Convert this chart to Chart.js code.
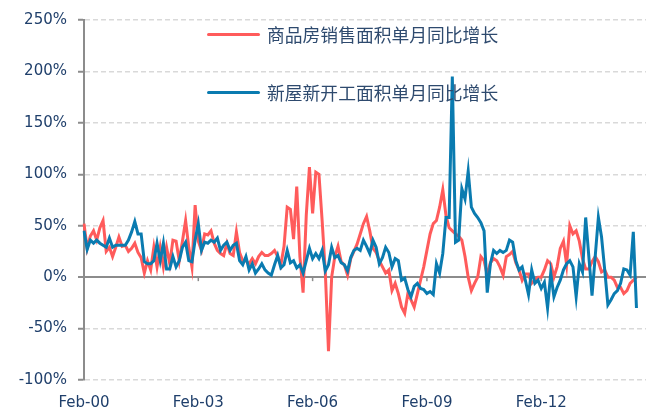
<!DOCTYPE html>
<html>
<head>
<meta charset="utf-8">
<script src="https://cdn.jsdelivr.net/npm/chart.js@4.4.0/dist/chart.umd.min.js"></script>
<style>
  html, body { margin: 0; padding: 0; background: #fff; }
  #wrap { position: relative; width: 646px; height: 412px; }
  .legend-item {
    position: absolute; left: 207px; height: 20px;
    display: flex; align-items: center;
    font-family: "Noto Sans CJK SC", sans-serif; font-size: 17.8px;
    color: #2E4A6E; white-space: nowrap;
  }
  .legend-item i { display: inline-block; width: 53px; height: 3px; border-radius: 2px; margin-right: 7px; }
</style>
</head>
<body>
<div id="wrap">
  <canvas id="chartYoy"></canvas>
  <div class="legend-item" style="top:24px"><i style="background:#FF5B5B"></i>商品房销售面积单月同比增长</div>
  <div class="legend-item" style="top:82px"><i style="background:#0A7BB0"></i>新屋新开工面积单月同比增长</div>
</div>
<script>
// ============= DATA =============
// monthly yoy growth (%), starting Feb-00
const salesYoy = [
  52,28,40,45,36,48,55,25,29,20,
  29,39,30,31,25,28,33,24,19,4,
  16,7,29,10,29,10,29,13,36,35,
  16,35,55,29,10,70,35,26,42,41,
  45,33,26,23,21,33,23,21,44,24,
  16,16,13,18,13,20,24,21,21,23,
  26,20,12,30,68,66,37,88,20,-15,
  60,107,62,102,100,55,5,-72,0,20,
  30,15,12,2,18,25,32,42,52,59,
  45,28,24,16,10,4,7,-13,-6,-16,
  -29,-35,-16,-22,-29,-16,-3,10,26,42,
  52,55,68,85,60,48,45,42,40,36,
  20,0,-13,-6,0,20,16,2,14,18,
  16,10,2,20,22,25,14,7,-3,3,
  3,-6,-3,0,0,7,16,13,0,10,
  28,35,12,50,42,45,35,18,8,8,
  15,20,15,5,7,0,0,-3,-10,-10,
  -16,-13,-6,-3,0
];
const startsYoy = [
  45,27,36,33,36,33,31,29,38,29,
  31,31,31,31,36,44,54,42,42,15,
  13,13,16,33,16,33,8,8,20,10,
  16,29,34,16,15,36,52,26,34,33,
  36,34,38,26,31,34,26,31,33,16,
  12,20,7,13,4,8,13,7,4,2,
  12,21,9,12,26,14,16,9,12,4,
  16,28,18,23,18,26,6,12,29,19,
  21,14,12,6,19,26,28,26,36,30,
  23,36,29,13,19,29,24,10,18,16,
  -3,-1,-12,-19,-9,-6,-11,-12,-16,-14,
  -17,13,4,23,58,58,195,34,36,86,
  76,103,68,62,58,53,45,-15,13,26,
  23,26,24,26,36,34,16,7,10,-3,
  -17,7,-6,-3,-11,-5,-30,4,-19,-10,
  -3,7,13,16,10,-19,13,5,58,20,
  -18,20,58,39,7,-27,-22,-16,-13,-6,
  8,7,2,44,-30
];
const xTickLabels = ['Feb-00', 'Feb-03', 'Feb-06', 'Feb-09', 'Feb-12'];
const yMin = -100, yMax = 250, yStep = 50;

// month categories Feb-00 .. Nov-14 (axis runs a little past the last data point)
const MONTH_NAMES = ['Jan','Feb','Mar','Apr','May','Jun','Jul','Aug','Sep','Oct','Nov','Dec'];
const monthLabels = [];
for (let k = 0; k < 178; k++) {
  const m = (1 + k) % 12;
  const yr = Math.floor((1 + k) / 12);
  monthLabels.push(MONTH_NAMES[m] + '-' + String(yr).padStart(2, '0'));
}

const AXIS_GRAY = '#8C8C8C';
const GRID_GRAY = '#D9D9D9';
const TEXT_BLUE = '#1F3F6B';

// little tick marks hanging under the zero line at each labelled month
const zeroTicks = {
  id: 'zeroTicks',
  beforeDatasetsDraw(chart) {
    const xs = chart.scales.x, ys = chart.scales.y, ctx = chart.ctx;
    const y0 = ys.getPixelForValue(0);
    ctx.save();
    ctx.strokeStyle = AXIS_GRAY;
    ctx.lineWidth = 1.5;
    xTickLabels.forEach(l => {
      const idx = monthLabels.indexOf(l);
      if (idx <= 0) return;
      const x = xs.getPixelForValue(idx);
      ctx.beginPath();
      ctx.moveTo(x, y0);
      ctx.lineTo(x, y0 + 4);
      ctx.stroke();
    });
    ctx.restore();
  }
};

new Chart(document.getElementById('chartYoy'), {
  type: 'line',
  data: {
    labels: monthLabels,
    datasets: [
      {
        label: '商品房销售面积单月同比增长',
        data: salesYoy,
        borderColor: '#FF5B5B',
        borderWidth: 3,
        pointRadius: 0,
        tension: 0,
        order: 1
      },
      {
        label: '新屋新开工面积单月同比增长',
        data: startsYoy,
        borderColor: '#0A7BB0',
        borderWidth: 3,
        pointRadius: 0,
        tension: 0,
        order: 0
      }
    ]
  },
  options: {
    responsive: true,
    maintainAspectRatio: false,
    animation: false,
    layout: { padding: { top: 17.5, left: 0, right: 0, bottom: 0 } },
    plugins: {
      legend: { display: false },
      tooltip: { enabled: false }
    },
    scales: {
      x: {
        type: 'category',
        offset: false,
        grid: { display: false, drawTicks: false },
        border: { display: false },
        ticks: {
          autoSkip: false,
          maxRotation: 0,
          padding: 14,
          color: TEXT_BLUE,
          font: { family: 'DejaVu Sans', size: 15 },
          callback: function(val) {
            const l = this.getLabelForValue(val);
            return xTickLabels.includes(l) ? l : '';
          }
        },
        afterFit: s => {
          s.height = 32;
          // no extra side padding for edge labels: plot runs to the canvas edge
          s.paddingLeft = 0;
          s.paddingRight = 0;
        }
      },
      y: {
        min: yMin,
        max: yMax,
        grid: {
          color: c => c.tick && c.tick.value === 0 ? AXIS_GRAY : GRID_GRAY,
          lineWidth: c => c.tick && c.tick.value === 0 ? 2 : 1.5,
          tickColor: AXIS_GRAY,
          tickLength: 6,
          tickWidth: 2
        },
        border: {
          display: true,
          color: AXIS_GRAY,
          width: 2,
          dash: c => c.tick && c.tick.value === 0 ? [] : [5, 3]
        },
        ticks: {
          stepSize: yStep,
          padding: 11,
          color: TEXT_BLUE,
          font: { family: 'DejaVu Sans', size: 15 },
          callback: v => v + '%'
        },
        afterFit: s => { s.width = 84; }
      }
    }
  },
  plugins: [zeroTicks]
});
</script>
</body>
</html>
